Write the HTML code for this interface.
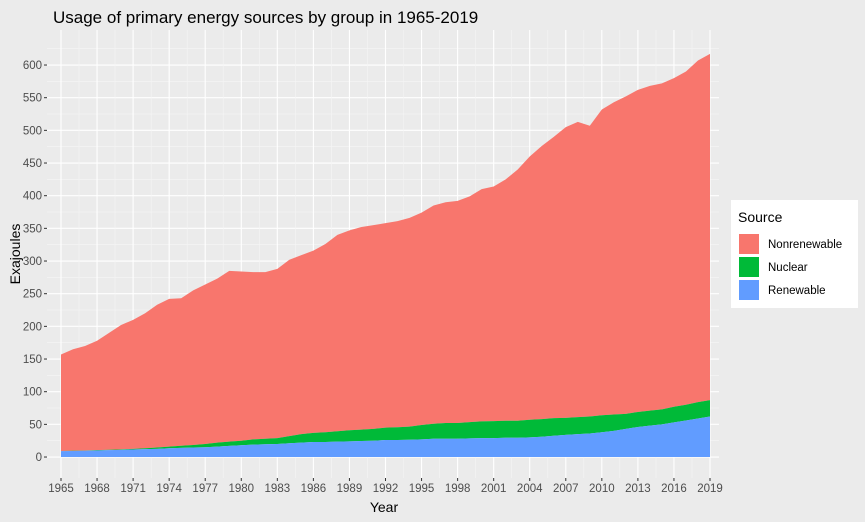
<!DOCTYPE html>
<html><head><meta charset="utf-8"><style>
body{margin:0;background:#ebebeb;}
svg{display:block;font-family:"Liberation Sans",sans-serif;}
</style></head><body>
<svg id="chart" width="865" height="522">
<rect width="865" height="522" fill="#ebebeb"/>
<text x="53" y="23" font-size="17" fill="#000">Usage of primary energy sources by group in 1965-2019</text>
<rect x="47" y="30" width="672" height="448" fill="#ebebeb"/>
<g id="grid"></g><g id="areas"></g><g id="axes"></g>
<text x="384" y="512" font-size="14" text-anchor="middle" fill="#000">Year</text>
<text transform="translate(20,254) rotate(-90)" font-size="14" text-anchor="middle" fill="#000">Exajoules</text>
<g>
<rect x="731" y="200" width="127" height="108" fill="#fff"/>
<text x="738" y="222" font-size="14" fill="#000">Source</text>
<rect x="739" y="234" width="20" height="20" fill="#f8766d"/>
<text x="768" y="248" font-size="11.5" fill="#000">Nonrenewable</text>
<rect x="739" y="257" width="20" height="20" fill="#00ba38"/>
<text x="768" y="271" font-size="11.5" fill="#000">Nuclear</text>
<rect x="739" y="280" width="20" height="20" fill="#619cff"/>
<text x="768" y="294" font-size="11.5" fill="#000">Renewable</text>
</g>
</svg>
<script>
const years=[];for(let y=1965;y<=2019;y++)years.push(y);
const renewable=[9,9.3,9.6,10,10.5,11,11.5,12,12.5,13.5,14,14.5,15,16,17,18,19,19.5,20,21,22,23,23,23.5,24,24.5,25,26,26,26.5,27,28,28,28,28.5,29,29,29.5,29.5,30,31,32.5,34,35,36,38,40,43,46,48,50,53,56,59,62];
const nuclear=[0.2,0.3,0.4,0.5,0.6,0.8,1,1.5,2,2.5,3.3,4,5,6,6.5,7,8,8.5,9,11,13,14,15,16,17,17.5,18,19,19.5,20,22,23,24,24,25,25.5,26,26,26,27,27,27,26,26,26,26,25,23,23,23,23,24,24,25,25];
const nonrenewable=[147.8,155.4,160,167.5,178.9,190.2,197.5,206.5,218.5,226,225.7,236.5,244,251,261.5,259,256,255,259,270,274,279,288,300.5,306,310,312,313,315.5,319.5,325,334,338,340,345.5,355.5,359,369.5,384.5,403,418,430.5,445,452,445,468,478,486,493,497,499,503,510,523,530];
const yTicks=[0,50,100,150,200,250,300,350,400,450,500,550,600];
const xTicks=[1965,1968,1971,1974,1977,1980,1983,1986,1989,1992,1995,1998,2001,2004,2007,2010,2013,2016,2019];
const NS="http://www.w3.org/2000/svg";
const X0=47,X1=719,Y0=30,Y1=478;
const xmin=1965-14/12.02,xmax=2019+9/12.02;
const ymin=-32.1,ymax=653.6;
const sx=v=>X0+(v-xmin)/(xmax-xmin)*(X1-X0);
const sy=v=>Y1-(v-ymin)/(ymax-ymin)*(Y1-Y0);
function mk(tag,at,parent){const e=document.createElementNS(NS,tag);for(const k in at)e.setAttribute(k,at[k]);parent.appendChild(e);return e;}
const grid=document.getElementById('grid'),areas=document.getElementById('areas'),axes=document.getElementById('axes');
yTicks.forEach((t,i)=>{
 if(i>0){const m=mk('line',{x1:X0,x2:X1,y1:sy(t-25),y2:sy(t-25),stroke:'#f5f5f5','stroke-width':0.6},grid);
 
 }
 const l=mk('line',{x1:X0,x2:X1,y1:sy(t),y2:sy(t),stroke:'#fff','stroke-width':1.1},grid);
 
 
 const tk=mk('line',{x1:X0-3,x2:X0,y1:sy(t),y2:sy(t),stroke:'#333','stroke-width':1},axes);
 
 
 const tx=mk('text',{x:X0-5,y:sy(t)+4,'font-size':11.5,'text-anchor':'end',fill:'#4d4d4d'},axes);
 tx.textContent=t;
 
 
});
{const m=mk('line',{x1:X0,x2:X1,y1:sy(625),y2:sy(625),stroke:'#f5f5f5','stroke-width':0.6},grid);
 
 }
xTicks.forEach((t,i)=>{
 if(i>0){const m=mk('line',{x1:sx(t-1.5),x2:sx(t-1.5),y1:Y0,y2:Y1,stroke:'#f5f5f5','stroke-width':0.6},grid);
 
 }
 const l=mk('line',{x1:sx(t),x2:sx(t),y1:Y0,y2:Y1,stroke:'#fff','stroke-width':1.1},grid);
 
 
 const tk=mk('line',{x1:sx(t),x2:sx(t),y1:Y1,y2:Y1+3,stroke:'#333','stroke-width':1},axes);
 
 
 const tx=mk('text',{x:sx(t),y:Y1+14,'font-size':11.5,'text-anchor':'middle',fill:'#4d4d4d'},axes);
 tx.textContent=t;
 
 
});
function area(lower,upper,color,name){
 let d='M'+years.map((y,i)=>sx(y)+','+sy(upper[i])).join('L');
 for(let i=years.length-1;i>=0;i--)d+='L'+sx(years[i])+','+sy(lower[i]);
 const p=mk('path',{d:d+'Z',fill:color},areas);
 
 
}
const zero=years.map(()=>0);
const s1=renewable.map(v=>v);
const s2=renewable.map((v,i)=>v+nuclear[i]);
const s3=s2.map((v,i)=>v+nonrenewable[i]);
area(s2,s3,'#f8766d','area-nonrenewable');
area(s1,s2,'#00ba38','area-nuclear');
area(zero,s1,'#619cff','area-renewable');
</script>
</body></html>
